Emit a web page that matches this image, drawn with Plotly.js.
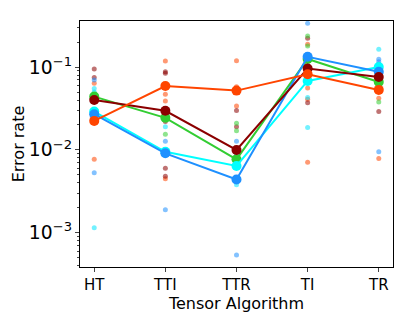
<!DOCTYPE html>
<html>
<head>
<meta charset="utf-8">
<script src="https://cdn.plot.ly/plotly-3.0.1.min.js"></script>
<style>body{margin:0;background:#fff}</style>
</head>
<body>
<div id="chart" style="width:407px;height:326px"></div>
<script>
var algorithms = ['HT', 'TTI', 'TTR', 'TI', 'TR'];

// mean error rate per series
var meanOrange = [0.0224, 0.059, 0.052, 0.082, 0.053];
var meanDarkred = [0.040, 0.0297, 0.0100, 0.096, 0.076];
var meanGreen = [0.044, 0.0244, 0.0077, 0.125, 0.066];
var meanBlue = [0.027, 0.0091, 0.0044, 0.133, 0.088];
var meanCyan = [0.029, 0.0095, 0.0064, 0.068, 0.100];

// individual runs
var dotOrangeX = ['HT', 'HT', 'TTI', 'TTI', 'TTI', 'TTI', 'TTR', 'TTR', 'TTR', 'TI', 'TI', 'TI', 'TI', 'TR', 'TR'];
var dotOrangeY = [0.064, 0.0077, 0.118, 0.047, 0.039, 0.0045, 0.119, 0.058, 0.034, 0.188, 0.056, 0.041, 0.0071, 0.042, 0.0079];
var dotDarkredX = ['HT', 'HT', 'HT', 'TTI', 'TTI', 'TTI', 'TTI', 'TTI', 'TTR', 'TTR', 'TI', 'TI', 'TI', 'TI', 'TR', 'TR', 'TR', 'TR'];
var dotDarkredY = [0.095, 0.075, 0.029, 0.088, 0.084, 0.022, 0.006, 0.0048, 0.030, 0.019, 0.222, 0.124, 0.065, 0.037, 0.108, 0.080, 0.060, 0.029];
var dotGreenX = ['HT', 'TTI', 'TTR', 'TTR', 'TI', 'TI', 'TR'];
var dotGreenY = [0.044, 0.0155, 0.021, 0.017, 0.237, 0.180, 0.038];
var dotBlueX = ['HT', 'HT', 'TTI', 'TTI', 'TTR', 'TTR', 'TTR', 'TI', 'TR', 'TR', 'TR'];
var dotBlueY = [0.070, 0.0053, 0.0127, 0.0019, 0.0127, 0.0086, 0.00054, 0.337, 0.124, 0.116, 0.0095];
var dotCyanX = ['HT', 'HT', 'HT', 'TTI', 'TTR', 'TI', 'TI', 'TR'];
var dotCyanY = [0.055, 0.050, 0.00115, 0.019, 0.0038, 0.043, 0.0187, 0.164];

var dotColors = ['rgba(255,69,0,0.55)', 'rgba(139,0,0,0.55)', 'rgba(50,205,50,0.55)', 'rgba(30,144,255,0.55)', 'rgba(0,230,255,0.55)'];
var dotXs = [dotOrangeX, dotDarkredX, dotGreenX, dotBlueX, dotCyanX];
var dotYs = [dotOrangeY, dotDarkredY, dotGreenY, dotBlueY, dotCyanY];

var data = [];
for (var i = 0; i < dotXs.length; i++) {
  data.push({
    x: dotXs[i], y: dotYs[i], type: 'scatter', mode: 'markers',
    marker: {color: dotColors[i], size: 5}, hoverinfo: 'none', showlegend: false
  });
}

var lineSeries = [
  {y: meanGreen, color: 'limegreen'},
  {y: meanCyan, color: 'cyan'},
  {y: meanBlue, color: 'dodgerblue'},
  {y: meanDarkred, color: 'darkred'},
  {y: meanOrange, color: 'orangered'}
];
lineSeries.forEach(function (s) {
  data.push({
    x: algorithms, y: s.y, type: 'scatter', mode: 'lines+markers',
    line: {color: s.color, width: 2},
    marker: {color: s.color, size: 10},
    hoverinfo: 'none', showlegend: false
  });
});

var titleFont = {family: 'DejaVu Sans', size: 16, color: 'black'};
var tickFont = {family: 'DejaVu Sans', size: 15, color: 'black'};

var layout = {
  width: 407, height: 326,
  margin: {l: 80, r: 14, t: 21, b: 59},
  paper_bgcolor: 'white', plot_bgcolor: 'white',
  font: {family: 'DejaVu Sans', size: 15, color: 'black'},
  xaxis: {
    type: 'category', range: [-0.2, 4.2],
    showline: true, mirror: true, linecolor: 'black', linewidth: 1,
    ticks: 'outside', ticklen: 4, showgrid: false, zeroline: false,
    tickfont: tickFont,
    title: {text: 'Tensor Algorithm', standoff: 2, font: titleFont}
  },
  yaxis: {
    type: 'log', range: [-3.413, -0.444],
    showline: true, mirror: true, linecolor: 'black', linewidth: 1,
    ticks: 'outside', ticklen: 4, showgrid: false, zeroline: false,
    dtick: 1, exponentformat: 'power',
    tickfont: tickFont,
    minor: {ticks: 'outside', ticklen: 2, dtick: 'D1', showgrid: false},
    title: {text: 'Error rate', standoff: 0, font: titleFont}
  }
};

Plotly.newPlot('chart', data, layout, {staticPlot: true});
</script>
</body>
</html>
